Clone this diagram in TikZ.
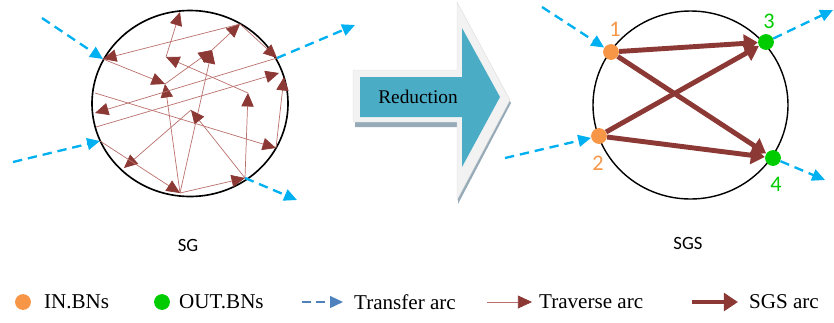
\documentclass[tikz,border=0pt]{standalone}
\usepackage{fontspec}
\setmainfont{Liberation Serif}
\newfontfamily\calfont{Carlito}
\usetikzlibrary{arrows.meta}

\definecolor{arcred}{RGB}{140,57,54}
\definecolor{arcpale}{RGB}{185,112,108}
\definecolor{tblue}{RGB}{0,176,240}
\definecolor{lblue}{RGB}{79,129,189}
\definecolor{inorg}{RGB}{247,150,70}
\definecolor{outgrn}{RGB}{0,204,0}
\definecolor{redteal}{RGB}{75,172,198}
\definecolor{redgray}{RGB}{242,242,242}
\definecolor{redshade}{RGB}{150,170,184}

\begin{document}
\begin{tikzpicture}[x=0.03cm,y=-0.03cm,
    transfer/.style={draw=tblue,line width=2pt,dash pattern=on 8pt off 5pt,
        -{Triangle[length=11pt,width=10pt]}},
    trav/.style={draw=arcpale,line width=0.6pt,
        -{Triangle[length=11.5pt,width=10.5pt,color=arcred]}},
    sgs/.style={draw=arcred,line width=4.2pt,-{Triangle[length=12pt,width=15pt]}},
    inb/.style={circle,fill=inorg,inner sep=0pt,minimum size=13.5pt},
    outb/.style={circle,fill=outgrn,inner sep=0pt,minimum size=13.5pt},
    numlab/.style={font=\calfont\fontsize{19}{22}\selectfont},
    caption/.style={font=\calfont\fontsize{16}{19}\selectfont},
    legtxt/.style={anchor=west,font=\fontsize{18}{21}\selectfont}]
    \useasboundingbox (0,0) rectangle (834,322);

    % SG
    \draw[line width=1.4pt] (190,103.5) ellipse [x radius=2.94cm,y radius=2.79cm];
    \coordinate (e1) at (103,59);   \coordinate (e2) at (100,141);
    \coordinate (x1) at (277,58);   \coordinate (x2) at (245,178);
    \coordinate (vtop) at (240,24); \coordinate (vb) at (180,193);
    \coordinate (va) at (165,84);   \coordinate (w) at (212,50);
    \coordinate (vt) at (180,12);   \coordinate (vj) at (166,57);
    \coordinate (vr) at (248,93);   \coordinate (vp) at (191,110);
    \coordinate (vc) at (124,168);  \coordinate (vm) at (95,93);
    \coordinate (vn) at (276,148);  \coordinate (vn2) at (284,77);
    \coordinate (vk) at (96,127);   \coordinate (vk2) at (279,73);
    \coordinate (vl) at (95,113);

    \foreach \s/\t in {e1/va,vb/va,va/w,vb/w,w/vtop,vtop/e1,vtop/x1,vj/vt,
        vr/vj,x2/vr,x2/vp,vp/vc,vb/x2,e2/vb,vm/vn,vn/vn2,vk/vk2,x1/vl}
    {
        \draw[trav] (\s) -- (\t);
    }

    \coordinate (ta1) at (42,18);  \coordinate (ta2) at (13,162);
    \coordinate (tb1) at (355,25); \coordinate (tb2) at (297,200);
    \draw[transfer] (ta1) -- (e1);
    \draw[transfer] (ta2) -- (e2);
    \draw[transfer] (x1) -- (tb1);
    \draw[transfer] (x2) -- (tb2);
    \node[caption] (sg) at (188,245) {SG};

    % Reduction
    \fill[redshade] (355,75) -- (458,75) -- (458,6) -- (511,103) -- (458,204)
        -- (458,127) -- (355,127) -- cycle;
    \filldraw[fill=redgray,draw=gray!25] (353,70) -- (457,70) -- (457,2) -- (510,100)
        -- (457,200) -- (457,122) -- (353,122) -- cycle;
    \fill[redteal] (360,77) -- (462,77) -- (462,28) -- (500,97) -- (462,167)
        -- (462,117) -- (360,117) -- cycle;
    \node[font=\fontsize{16.5}{19}\selectfont] (redtxt) at (418,97) {Reduction};

    % SGS
    \draw[line width=1.2pt] (690.5,105) ellipse [x radius=2.925cm,y radius=2.82cm];
    \node[inb] (n1) at (611,52) {};
    \node[inb] (n2) at (599,136) {};
    \node[outb] (n3) at (766,42) {};
    \node[outb] (n4) at (773,158) {};
    \node[numlab,text=inorg] (l1) at (615,29) {1};
    \node[numlab,text=inorg] (l2) at (598,163) {2};
    \node[numlab,text=outgrn] (l3) at (769,21) {3};
    \node[numlab,text=outgrn] (l4) at (776,184) {4};

    \draw[sgs] (n1) -- (n3);
    \draw[sgs] (n2) -- (n3);
    \draw[sgs] (n1) -- (n4);
    \draw[sgs] (n2) -- (n4);

    \coordinate (tc1) at (542,7);  \coordinate (tc2) at (505,158);
    \coordinate (td3) at (833,10); \coordinate (td4) at (825,180);
    \draw[transfer] (tc1) -- (n1);
    \draw[transfer] (tc2) -- (n2);
    \draw[transfer] (n3) -- (td3);
    \draw[transfer] (n4) -- (td4);
    \node[caption] (sgs) at (688,243) {SGS};

    % legend
    \node[inb] (lgin) at (23,302) {};
    \node[legtxt] (lgintxt) at (40,302) {IN.BNs};
    \node[outb] (lgout) at (162,302) {};
    \node[legtxt] (lgouttxt) at (175,302) {OUT.BNs};
    \coordinate (lgta) at (302,302); \coordinate (lgtb) at (343,302);
    \draw[transfer,draw=lblue,line width=1.6pt,dash pattern=on 8pt off 4pt] (lgta) -- (lgtb);
    \node[legtxt] (lgtrtxt) at (350,302) {Transfer arc};
    \coordinate (lgva) at (487,302); \coordinate (lgvb) at (532,302);
    \draw[trav,-{Triangle[length=12pt,width=11pt,color=arcred]}] (lgva) -- (lgvb);
    \node[legtxt] (lgvtxt) at (535,302) {Traverse arc};
    \coordinate (lgsa) at (692,302); \coordinate (lgsb) at (738,302);
    \draw[sgs] (lgsa) -- (lgsb);
    \node[legtxt] (lgstxt) at (745,302) {SGS arc};
\end{tikzpicture}
\end{document}
